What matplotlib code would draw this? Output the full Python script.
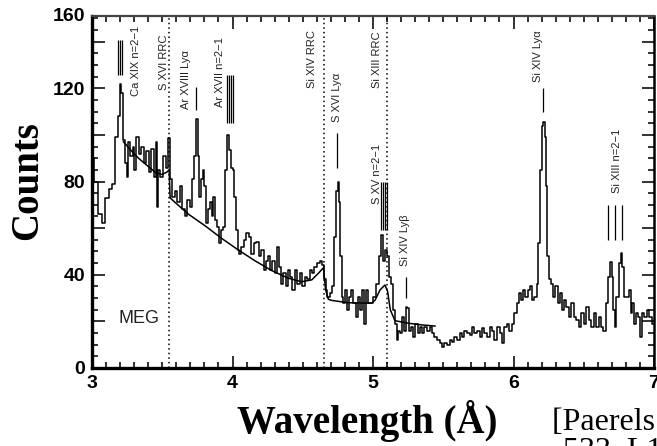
import matplotlib
matplotlib.use("Agg")
import matplotlib.pyplot as plt
from matplotlib.ticker import MultipleLocator

# MEG first-order spectrum (wavelength in Angstrom, counts per bin)
wavelength = [
    3.000, 3.023, 3.058, 3.082, 3.106, 3.129, 3.153, 3.177, 3.188, 3.205,
    3.212, 3.224, 3.241, 3.255, 3.264, 3.283, 3.295, 3.307, 3.326, 3.343,
    3.359, 3.378, 3.397, 3.414, 3.430, 3.449, 3.461, 3.468, 3.478, 3.497,
    3.516, 3.532, 3.549, 3.563, 3.580, 3.596, 3.615, 3.634, 3.651, 3.667,
    3.686, 3.705, 3.722, 3.734, 3.748, 3.757, 3.772, 3.781, 3.793, 3.805,
    3.817, 3.833, 3.847, 3.857, 3.871, 3.886, 3.900, 3.914, 3.928, 3.943,
    3.957, 3.971, 3.983, 3.995, 4.007, 4.018, 4.030, 4.042, 4.054, 4.070,
    4.089, 4.108, 4.125, 4.142, 4.160, 4.179, 4.196, 4.213, 4.232, 4.246,
    4.260, 4.274, 4.291, 4.307, 4.326, 4.338, 4.355, 4.369, 4.386, 4.402,
    4.417, 4.433, 4.450, 4.469, 4.485, 4.504, 4.521, 4.540, 4.559, 4.575,
    4.592, 4.611, 4.630, 4.647, 4.659, 4.670, 4.682, 4.701, 4.718, 4.730,
    4.742, 4.754, 4.763, 4.772, 4.782, 4.796, 4.805, 4.820, 4.836, 4.853,
    4.867, 4.884, 4.901, 4.915, 4.931, 4.943, 4.957, 4.972, 4.990, 5.014,
    5.033, 5.050, 5.066, 5.080, 5.097, 5.109, 5.123, 5.137, 5.147, 5.161,
    5.175, 5.185, 5.199, 5.213, 5.227, 5.239, 5.251, 5.265, 5.280, 5.294,
    5.310, 5.327, 5.341, 5.358, 5.374, 5.393, 5.412, 5.429, 5.446, 5.464,
    5.483, 5.500, 5.517, 5.536, 5.555, 5.571, 5.588, 5.607, 5.626, 5.642,
    5.659, 5.678, 5.697, 5.713, 5.730, 5.749, 5.768, 5.785, 5.801, 5.820,
    5.839, 5.856, 5.872, 5.891, 5.910, 5.927, 5.943, 5.962, 5.981, 5.998,
    6.014, 6.029, 6.045, 6.062, 6.076, 6.093, 6.109, 6.124, 6.140, 6.157,
    6.171, 6.181, 6.195, 6.207, 6.216, 6.226, 6.235, 6.247, 6.261, 6.275,
    6.290, 6.306, 6.323, 6.337, 6.354, 6.370, 6.384, 6.401, 6.418, 6.437,
    6.455, 6.472, 6.489, 6.508, 6.527, 6.543, 6.560, 6.579, 6.598, 6.614,
    6.631, 6.650, 6.664, 6.678, 6.693, 6.704, 6.716, 6.726, 6.740, 6.757,
    6.768, 6.783, 6.797, 6.811, 6.828, 6.840, 6.851, 6.863, 6.878, 6.892,
    6.906, 6.920, 6.939, 6.958, 6.977, 6.994,
]
counts = [
    90, 80, 66, 62, 73, 77, 79, 99, 108, 122,
    118, 98, 88, 82, 97, 91, 95, 85, 99, 92,
    95, 88, 93, 84, 94, 82, 97, 69, 85, 82,
    91, 86, 98.6, 81, 73.5, 76, 71, 78, 68, 65,
    72, 69, 81, 91, 107, 91, 73.5, 81, 85, 78,
    62, 68, 71, 65, 73.5, 63.5, 60.7, 53.5, 59, 60.7,
    85, 100, 93.6, 86, 85, 73.5, 59, 50.6, 49, 52,
    55, 58, 56, 49, 53.5, 54, 48, 50.6, 42, 46,
    48, 42, 46, 40.6, 52, 43.5, 36, 40.6, 35, 42,
    39, 33.5, 42, 36, 40.6, 35, 39, 38, 42, 40.6,
    43.5, 45, 46, 44, 38, 33.5, 30.6, 32, 35, 56,
    76, 80, 71, 48, 30.6, 27.8, 33.5, 25, 30.6, 33.5,
    27.8, 22, 30.6, 25, 33.5, 19, 33.5, 27.8, 27.8, 30.6,
    36, 48, 57, 46, 50.6, 48, 39, 36, 25, 19,
    12, 16, 15, 22, 16, 26, 25.6, 16, 17.7, 13.4,
    19, 15, 17.7, 15, 17.7, 16, 17.7, 15, 13.4, 12,
    10.6, 9, 10.6, 9.9, 12, 11.3, 13.4, 12, 15, 13.4,
    16, 15, 14, 17.7, 15, 16, 13.4, 17, 15, 13.4,
    17.7, 16, 12, 17.7, 15, 10.6, 17.7, 19, 16, 19,
    23.5, 27.8, 32, 29, 33.5, 30.6, 33.5, 35, 29, 30.6,
    36, 53.5, 85, 103.6, 105.7, 99, 78, 48, 38, 36,
    30.6, 35, 27.8, 32, 25, 29, 26, 22, 27.8, 22,
    20.6, 17.7, 23.5, 19, 26, 20.6, 17.7, 23.5, 17.7, 22,
    17.7, 16, 27.8, 39, 45.6, 39, 25, 17.7, 30.6, 45,
    49.5, 43.5, 30.6, 30.6, 33.5, 23.5, 27.8, 19, 23.5, 22,
    13.4, 23.5, 22, 25, 22, 19,
]

# Continuum model with recombination edges
model_wavelength = [
    3.224, 3.283, 3.331, 3.390, 3.449, 3.497, 3.532, 3.549, 3.556, 3.592,
    3.686, 3.805, 3.923, 4.042, 4.160, 4.279, 4.398, 4.492, 4.564, 4.611,
    4.647, 4.663, 4.682, 4.706, 4.822, 4.990, 5.014, 5.050, 5.085, 5.104,
    5.123, 5.156, 5.251, 5.346, 5.441,
]
model_counts = [
    97, 93, 90, 87, 84, 83, 84, 85, 73, 71,
    66, 61, 55.6, 50.6, 46, 41.8, 38.5, 37, 37.8, 40.6,
    43, 33.5, 29.5, 29, 28, 27.8, 29, 33.5, 35.6, 32.8,
    25, 20.3, 19.2, 18.5, 18,
]

# Radiative recombination continuum edges
rrc_edges = [3.549, 4.653, 5.100]

# Line identifications
line_labels = ["Ca XIX n=2\u22121", "S XVI RRC", "Ar XVIII Ly\u03b1", "Ar XVII n=2\u22121",
               "Si XIV RRC", "S XVI Ly\u03b1", "S XV n=2\u22121", "Si XIII RRC",
               "Si XIV Ly\u03b2", "Si XIV Ly\u03b1", "Si XIII n=2\u22121"]
label_x = [3.31, 3.509, 3.672, 3.914, 4.569, 4.746, 5.03, 5.03, 5.23, 6.175, 6.737]
label_y = [131.8, 131.0, 123.6, 126.8, 132.4, 115.9, 83.3, 132.4, 55.0, 134.0, 89.0]

# Marker bars for each identified transition
bar_x = [
    [3.182, 3.196, 3.210],
    [3.743],
    [3.962, 3.977, 3.992, 4.007],
    [4.746],
    [5.057, 5.072, 5.087, 5.102],
    [5.237],
    [6.211],
    [6.673, 6.722, 6.772],
]
bar_low = [125.8, 110.7, 105.0, 85.8, 59.2, 30.0, 110.0, 55.0]
bar_high = [140.8, 120.6, 125.8, 100.9, 79.8, 39.0, 120.0, 70.0]

x_ticklabels = ["3", "4", "5", "6", "7"]
y_labelled = [0, 40, 80, 120]

fig = plt.figure(figsize=(6.57, 4.46), dpi=100)
ax = fig.add_axes([92 / 657, 78 / 446, 562 / 657, 352 / 446])

ax.plot(wavelength, counts, drawstyle="steps-mid", color="black", lw=1.1)
ax.plot(model_wavelength, model_counts, color="black", lw=1.1)

for e in rrc_edges:
    ax.axvline(e, color="black", ls=(0, (1, 2)), lw=1.1)

for xs, lo, hi in zip(bar_x, bar_low, bar_high):
    ax.vlines(xs, lo, hi, color="black", lw=0.9)

for txt, lx, ly in zip(line_labels, label_x, label_y):
    ax.text(lx, ly, txt, rotation=90, ha="center", va="center",
            fontsize=8, family="Liberation Sans", color="#222222")

ax.text(3.188, 21.2, "MEG", ha="left", va="center", fontsize=13,
        family="Liberation Sans", color="#222222")

ax.set_xlim(3, 7)
ax.set_ylim(0, 151)

ax.xaxis.set_minor_locator(MultipleLocator(0.1))
ax.yaxis.set_minor_locator(MultipleLocator(5))
ax.set_xticks([3, 4, 5, 6, 7])
ax.set_xticklabels(x_ticklabels)
yt = list(range(0, 141, 20))
ax.set_yticks(yt)
ax.set_yticklabels([str(v) if v in y_labelled else "" for v in yt])

ax.tick_params(which="both", direction="in", top=True, right=True,
               width=1.3, color="#222222")
ax.tick_params(which="major", length=9)
ax.tick_params(which="minor", length=4)
ax.tick_params(axis="x", which="major", pad=5)
ax.tick_params(axis="y", which="major", pad=5)
for lab in ax.get_xticklabels() + ax.get_yticklabels():
    lab.set_fontsize(14)
    lab.set_fontweight("bold")
    lab.set_family("Liberation Sans")

ax.text(-0.012, 1.0, "160", transform=ax.transAxes, ha="right", va="center",
        fontsize=14, fontweight="bold", family="Liberation Sans")

for side in ["left", "bottom"]:
    ax.spines[side].set_linewidth(2.4)
ax.spines["right"].set_linewidth(1.8)
ax.spines["top"].set_linewidth(1.6)
ax.spines["top"].set_color("#444444")

fig.text(28 / 657, 1 - 181 / 446, "Counts", rotation=90, ha="center", va="center",
         fontsize=28, fontweight="bold", family="Liberation Serif")
fig.text(367 / 657, (446 - 433) / 446, "Wavelength (\u00c5)", ha="center", va="baseline",
         fontsize=28, fontweight="bold", family="Liberation Serif")
fig.text(552 / 657, (446 - 430) / 446, "[Paerels et al. 2000, ApJ", ha="left",
         va="baseline", fontsize=23, family="Liberation Serif")
fig.text(563 / 657, (446 - 459) / 446, "533, L135]", ha="left",
         va="baseline", fontsize=23, family="Liberation Serif")

fig.savefig("out.png", dpi=100)
